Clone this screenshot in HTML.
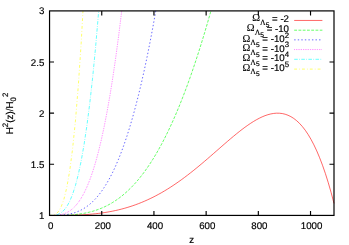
<!DOCTYPE html>
<html><head><meta charset="utf-8"><title>plot</title>
<style>
html,body{margin:0;padding:0;background:#fff;}
body{width:349px;height:245px;overflow:hidden;}
svg{display:block;}
text{font-family:"Liberation Sans",sans-serif;fill:#000;text-rendering:geometricPrecision;stroke:#000;stroke-width:0.18px;}
.sym{font-family:"Liberation Serif",serif;stroke-width:0.15px;}
</style></head><body>
<svg width="349" height="245" viewBox="0 0 349 245">
<rect width="349" height="245" fill="#fff"/>
<path d="M49.55,215.42 L52.42,215.42 L55.30,215.42 L58.17,215.41 L61.04,215.39 L63.92,215.37 L66.79,215.33 L69.66,215.28 L72.54,215.21 L75.41,215.12 L78.28,215.01 L81.16,214.88 L84.03,214.71 L86.90,214.52 L89.78,214.30 L92.65,214.05 L95.52,213.75 L98.39,213.42 L101.27,213.05 L104.14,212.64 L107.01,212.18 L109.89,211.67 L112.76,211.11 L115.63,210.51 L118.51,209.85 L121.38,209.13 L124.25,208.36 L127.13,207.53 L130.00,206.64 L132.87,205.69 L135.75,204.68 L138.62,203.60 L141.49,202.46 L144.37,201.26 L147.24,199.98 L150.11,198.64 L152.99,197.24 L155.86,195.76 L158.73,194.22 L161.61,192.61 L164.48,190.93 L167.35,189.19 L170.23,187.38 L173.10,185.50 L175.97,183.56 L178.85,181.56 L181.72,179.50 L184.59,177.38 L187.47,175.21 L190.34,172.98 L193.21,170.71 L196.08,168.38 L198.96,166.02 L201.83,163.62 L204.70,161.18 L207.58,158.72 L210.45,156.23 L213.32,153.73 L216.20,151.21 L219.07,148.70 L221.94,146.18 L224.82,143.68 L227.69,141.20 L230.56,138.75 L233.44,136.33 L236.31,133.97 L239.18,131.66 L242.06,129.43 L244.93,127.28 L247.80,125.22 L250.68,123.27 L253.55,121.44 L256.42,119.76 L259.30,118.22 L262.17,116.85 L265.04,115.67 L267.92,114.70 L270.79,113.94 L273.66,113.43 L276.54,113.18 L279.41,113.22 L282.28,113.56 L285.16,114.22 L288.03,115.25 L290.90,116.65 L293.77,118.45 L296.65,120.69 L299.52,123.38 L302.39,126.57 L305.27,130.27 L308.14,134.52 L311.01,139.36 L313.89,144.82 L316.76,150.92 L319.63,157.72 L322.51,165.24 L325.38,173.53 L328.25,182.63 L331.13,192.57 L334.00,203.40" fill="none" stroke="#ff0000" stroke-width="0.6"/>
<path d="M49.55,215.42 L52.42,215.42 L55.30,215.41 L58.17,215.39 L61.04,215.34 L63.92,215.27 L66.79,215.16 L69.66,215.00 L72.54,214.79 L75.41,214.53 L78.28,214.19 L81.16,213.79 L84.03,213.30 L86.90,212.73 L89.78,212.06 L92.65,211.29 L95.52,210.40 L98.39,209.40 L101.27,208.28 L104.14,207.03 L107.01,205.64 L109.89,204.10 L112.76,202.41 L115.63,200.56 L118.51,198.55 L121.38,196.36 L124.25,193.99 L127.13,191.44 L130.00,188.70 L132.87,185.75 L135.75,182.61 L138.62,179.25 L141.49,175.67 L144.37,171.88 L147.24,167.85 L150.11,163.59 L152.99,159.09 L155.86,154.35 L158.73,149.36 L161.61,144.11 L164.48,138.61 L167.35,132.84 L170.23,126.80 L173.10,120.50 L175.97,113.92 L178.85,107.06 L181.72,99.92 L184.59,92.50 L187.47,84.79 L190.34,76.80 L193.21,68.51 L196.08,59.93 L198.96,51.06 L201.83,41.90 L204.70,32.44 L207.58,22.69 L210.45,12.65 L210.94,10.90" fill="none" stroke="#00ff00" stroke-width="0.6" stroke-dasharray="2.84,1.42"/>
<path d="M49.55,215.42 L52.42,215.42 L55.30,215.39 L58.17,215.31 L61.04,215.16 L63.92,214.91 L66.79,214.54 L69.66,214.02 L72.54,213.34 L75.41,212.46 L78.28,211.35 L81.16,210.01 L84.03,208.39 L86.90,206.49 L89.78,204.26 L92.65,201.70 L95.52,198.77 L98.39,195.45 L101.27,191.71 L104.14,187.54 L107.01,182.91 L109.89,177.79 L112.76,172.16 L115.63,165.99 L118.51,159.27 L121.38,151.97 L124.25,144.06 L127.13,135.52 L130.00,126.33 L132.87,116.46 L135.75,105.90 L138.62,94.61 L141.49,82.58 L144.37,69.78 L147.24,56.19 L150.11,41.78 L152.99,26.54 L155.78,10.90" fill="none" stroke="#0000ff" stroke-width="0.6" stroke-dasharray="1.42,2.13"/>
<path d="M49.55,215.42 L52.42,215.41 L55.30,215.32 L58.17,215.07 L61.04,214.59 L63.92,213.80 L66.79,212.63 L69.66,210.99 L72.54,208.80 L75.41,206.00 L78.28,202.50 L81.16,198.22 L84.03,193.09 L86.90,187.04 L89.78,179.97 L92.65,171.82 L95.52,162.51 L98.39,151.95 L101.27,140.08 L104.14,126.82 L107.01,112.08 L109.89,95.80 L112.76,77.89 L115.63,58.28 L118.51,36.89 L121.38,13.64 L121.69,10.90" fill="none" stroke="#ff00ff" stroke-width="0.6" stroke-dasharray="0.71,1.06"/>
<path d="M49.55,215.42 L52.42,215.38 L55.30,215.09 L58.17,214.32 L61.04,212.80 L63.92,210.31 L66.79,206.59 L69.66,201.40 L72.54,194.49 L75.41,185.62 L78.28,174.54 L81.16,161.01 L84.03,144.79 L86.90,125.62 L89.78,103.26 L92.65,77.47 L95.52,48.00 L98.39,14.61 L98.68,10.90" fill="none" stroke="#00ffff" stroke-width="0.6" stroke-dasharray="3.55,1.42,0.71,1.42"/>
<path d="M49.55,215.42 L52.42,215.29 L55.30,214.39 L58.17,211.93 L61.04,207.15 L63.92,199.26 L66.79,187.50 L69.66,171.08 L72.54,149.24 L75.41,121.18 L78.28,86.15 L81.16,43.37 L82.97,10.90" fill="none" stroke="#ffff00" stroke-width="0.6" stroke-dasharray="2.84,2.13,0.71,2.13"/>
<rect x="49.55" y="10.90" width="284.45" height="204.52" fill="none" stroke="#000" stroke-width="1.2"/>
<path d="M49.55,164.29 h4.50 M334.00,164.29 h-4.50 M49.55,113.16 h4.50 M334.00,113.16 h-4.50 M49.55,62.03 h4.50 M334.00,62.03 h-4.50 M101.75,215.42 v-4.50 M101.75,10.90 v4.50 M153.94,215.42 v-4.50 M153.94,10.90 v4.50 M206.14,215.42 v-4.50 M206.14,10.90 v4.50 M258.33,215.42 v-4.50 M258.33,10.90 v4.50 M310.53,215.42 v-4.50 M310.53,10.90 v4.50" fill="none" stroke="#000" stroke-width="1.15"/>
<g style="filter:grayscale(1)">
<text x="44.3" y="218.92" font-size="9.7" text-anchor="end">1</text>
<text x="44.3" y="167.79" font-size="9.7" text-anchor="end">1.5</text>
<text x="44.3" y="116.66" font-size="9.7" text-anchor="end">2</text>
<text x="44.3" y="65.53" font-size="9.7" text-anchor="end">2.5</text>
<text x="44.3" y="14.40" font-size="9.7" text-anchor="end">3</text>
<text x="50.65" y="229.1" font-size="9.7" text-anchor="middle">0</text>
<text x="102.85" y="229.1" font-size="9.7" text-anchor="middle">200</text>
<text x="155.04" y="229.1" font-size="9.7" text-anchor="middle">400</text>
<text x="207.24" y="229.1" font-size="9.7" text-anchor="middle">600</text>
<text x="259.43" y="229.1" font-size="9.7" text-anchor="middle">800</text>
<text x="311.63" y="229.1" font-size="9.7" text-anchor="middle">1000</text>
<text x="191.78" y="243.3" font-size="9.7" text-anchor="middle">z</text>
<g transform="translate(12.7,113.46) rotate(-90)"><text x="0" y="0" font-size="9.9" text-anchor="middle">H<tspan dy="-5" font-size="7.9">2</tspan><tspan dy="5">(z)/H</tspan><tspan dy="3.5" font-size="7.9">0</tspan><tspan dy="-8.5" font-size="7.9">2</tspan></text></g>
<text x="289.00" y="21.20" font-size="9.7" text-anchor="end"><tspan class="sym" font-size="10.5">Ω</tspan><tspan class="sym" font-size="7.8" dy="3.6">Λ</tspan><tspan font-size="6.6" dy="1.8">5</tspan><tspan dy="-5.0"> = -2</tspan></text>
<text x="289.00" y="31.20" font-size="9.7" text-anchor="end"><tspan class="sym" font-size="10.5">Ω</tspan><tspan class="sym" font-size="7.8" dy="3.6">Λ</tspan><tspan font-size="6.6" dy="1.8">5</tspan><tspan dy="-5.0"> = -10</tspan></text>
<text x="289.00" y="41.80" font-size="9.7" text-anchor="end"><tspan class="sym" font-size="10.5">Ω</tspan><tspan class="sym" font-size="7.8" dy="3.6">Λ</tspan><tspan font-size="6.6" dy="1.8">5</tspan><tspan dy="-5.0"> = -10</tspan><tspan font-size="7.8" dy="-4.4">2</tspan></text>
<text x="289.00" y="51.40" font-size="9.7" text-anchor="end"><tspan class="sym" font-size="10.5">Ω</tspan><tspan class="sym" font-size="7.8" dy="3.6">Λ</tspan><tspan font-size="6.6" dy="1.8">5</tspan><tspan dy="-5.0"> = -10</tspan><tspan font-size="7.8" dy="-4.4">3</tspan></text>
<text x="289.00" y="60.90" font-size="9.7" text-anchor="end"><tspan class="sym" font-size="10.5">Ω</tspan><tspan class="sym" font-size="7.8" dy="3.6">Λ</tspan><tspan font-size="6.6" dy="1.8">5</tspan><tspan dy="-5.0"> = -10</tspan><tspan font-size="7.8" dy="-4.4">4</tspan></text>
<text x="289.00" y="70.50" font-size="9.7" text-anchor="end"><tspan class="sym" font-size="10.5">Ω</tspan><tspan class="sym" font-size="7.8" dy="3.6">Λ</tspan><tspan font-size="6.6" dy="1.8">5</tspan><tspan dy="-5.0"> = -10</tspan><tspan font-size="7.8" dy="-4.4">5</tspan></text>
</g>
<path d="M294.2,20.45 H322.4" fill="none" stroke="#ff0000" stroke-width="0.6"/>
<path d="M294.2,30.20 H322.4" fill="none" stroke="#00ff00" stroke-width="0.6" stroke-dasharray="2.84,1.42"/>
<path d="M294.2,39.85 H322.4" fill="none" stroke="#0000ff" stroke-width="0.6" stroke-dasharray="1.42,2.13"/>
<path d="M294.2,49.55 H322.4" fill="none" stroke="#ff00ff" stroke-width="0.6" stroke-dasharray="0.71,1.06"/>
<path d="M294.2,59.30 H322.4" fill="none" stroke="#00ffff" stroke-width="0.6" stroke-dasharray="3.55,1.42,0.71,1.42"/>
<path d="M294.2,69.10 H322.4" fill="none" stroke="#ffff00" stroke-width="0.6" stroke-dasharray="2.84,2.13,0.71,2.13"/>
</svg></body></html>
